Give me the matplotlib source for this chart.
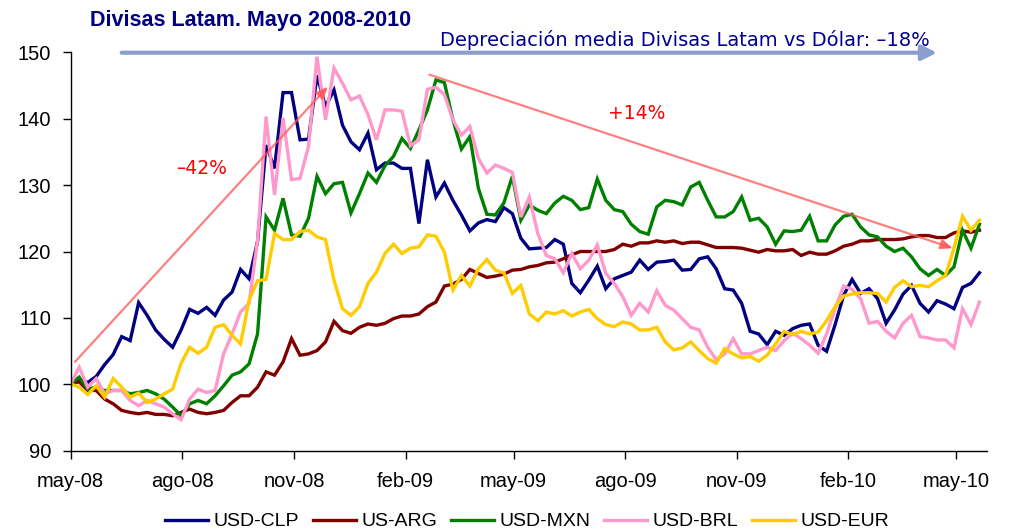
import numpy as np
import pandas as pd
import matplotlib
matplotlib.use("Agg")
import matplotlib.pyplot as plt

plt.rcParams['font.family'] = ['Liberation Sans', 'DejaVu Sans']

# weekly index, base 100 = may-08
start = pd.Timestamp('2008-05-01')

usd_clp = [100.1, 100.8, 100.3, 101.2, 103.0, 104.5, 107.2, 106.6, 112.3, 110.4, 108.2, 106.8, 105.6, 108.2,
           111.3, 110.7, 111.6, 110.4, 112.7, 113.9, 117.3, 115.9, 121.5, 136.0, 132.5, 143.9, 143.9, 136.8,
           136.9, 146.5, 141.8, 144.3, 139.0, 136.5, 135.3, 137.8, 132.3, 133.3, 133.3, 132.5, 132.5, 124.2,
           133.8, 128.2, 130.3, 127.7, 125.5, 123.1, 124.3, 124.8, 124.5, 126.6, 125.7, 122.0, 120.4,
           120.5, 120.6, 121.8, 121.1, 115.2, 113.8, 115.7, 117.8, 114.4, 115.9, 116.4, 116.9, 118.7, 117.3,
           118.4, 118.5, 118.7, 117.2, 117.3, 118.9, 119.2, 117.4, 114.4, 114.2, 112.2, 108.0, 107.6,
           106.0, 108.0, 107.4, 108.4, 108.9, 109.1, 105.9, 105.0, 109.0, 113.4, 115.8, 113.7, 114.4, 112.9,
           109.2, 111.2, 113.6, 114.9, 112.2, 110.9, 112.6, 112.1, 111.4, 114.6, 115.2, 116.8]
us_arg = [100.1, 100.4, 99.1, 99.1, 97.8, 97.1, 96.1, 95.8, 95.6, 95.8, 95.5, 95.5, 95.3, 95.8, 96.3, 95.8,
          95.6, 95.8, 96.1, 97.3, 98.3, 98.3, 99.6, 101.9, 101.4, 103.4, 106.9, 104.4,
          104.6, 105.1, 106.4, 109.5, 108.1, 107.7, 108.6, 109.1, 108.9, 109.2, 109.9, 110.3, 110.3, 110.6,
          111.7, 112.4, 114.8, 115.1, 115.8, 117.3, 116.7, 116.1, 116.3, 116.6, 117.2, 117.3, 117.7,
          117.9, 118.3, 118.4, 118.9, 119.5, 120.0, 120.0, 120.0, 120.0, 120.3, 121.1, 120.8, 121.3, 121.3,
          121.6, 121.4, 121.6, 121.2, 121.4, 121.4, 121.0, 120.6, 120.6, 120.6, 120.5, 120.2, 119.9,
          120.3, 120.1, 120.1, 120.3, 119.4, 119.9, 119.6, 119.6, 120.1, 120.8, 121.1, 121.6, 121.6, 121.8,
          121.8, 121.8, 121.9, 122.2, 122.4, 122.4, 122.1, 122.1, 122.8, 123.1, 122.9, 123.2]
usd_mxn = [100.1, 101.1, 99.3, 99.6, 99.1, 99.1, 99.1, 98.6, 98.8, 99.1, 98.6, 97.8, 96.6, 95.3, 97.1, 97.6,
           97.1, 98.3, 99.8, 101.4, 101.9, 103.1, 107.6, 125.2, 123.2, 128.0, 122.5, 122.3,
           125.0, 131.3, 128.7, 130.2, 130.4, 125.8, 128.7, 131.8, 130.4, 132.9, 134.3, 137.0, 135.5, 138.3,
           141.3, 145.8, 145.4, 139.8, 135.4, 137.3, 129.5, 125.6, 125.5, 127.3, 131.3, 124.7, 127.0,
           126.2, 125.7, 127.3, 128.3, 127.7, 126.3, 126.6, 130.9, 127.7, 126.3, 126.0, 124.1, 123.0, 122.6,
           126.7, 127.7, 127.5, 127.0, 129.7, 130.4, 127.7, 125.2, 125.2, 126.0, 128.2, 124.7, 125.0,
           123.7, 121.1, 123.1, 123.0, 123.2, 125.3, 121.6, 121.6, 124.0, 125.3, 125.6, 123.7, 122.5, 122.2,
           120.8, 120.0, 120.5, 119.2, 117.4, 116.4, 117.3, 116.4, 117.7, 123.2, 120.5, 124.1]
usd_brl = [100.1, 102.6, 99.6, 100.9, 98.6, 99.1, 99.1, 97.6, 96.8, 97.6, 97.1, 96.6, 95.6, 94.7, 97.8, 99.3,
           98.8, 99.1, 104.6, 107.6, 110.9, 112.2, 121.7, 140.3, 128.5, 140.1, 130.8, 131.0,
           135.8, 149.3, 139.8, 147.6, 145.3, 142.8, 143.4, 140.6, 136.8, 141.3, 141.3, 141.1, 135.9, 136.8,
           144.4, 144.7, 143.6, 139.8, 137.5, 138.8, 134.0, 131.8, 133.0, 132.5, 131.9, 125.2, 128.2,
           122.7, 119.4, 118.9, 116.8, 119.7, 117.4, 118.7, 121.0, 116.7, 115.2, 113.2, 110.4, 112.2, 110.9,
           114.1, 111.9, 111.2, 109.9, 108.6, 108.2, 105.6, 103.7, 104.6, 106.9, 104.6, 104.6, 105.1,
           105.6, 105.1, 106.6, 107.7, 106.9, 105.9, 104.7, 107.6, 111.4, 114.8, 114.3, 112.9, 109.2, 109.5,
           108.0, 107.0, 109.2, 110.4, 107.2, 107.0, 106.7, 106.7, 105.5, 111.4, 109.0, 112.4]
usd_eur = [100.1, 99.6, 98.5, 99.8, 98.1, 100.9, 99.6, 98.1, 98.7, 97.3, 97.8, 98.6, 99.3, 103.2, 105.6, 104.7,
           105.6, 108.6, 109.0, 107.4, 106.1, 112.7, 115.6, 115.8, 122.7, 121.8, 121.8, 123.0,
           123.2, 122.2, 121.8, 115.7, 111.4, 110.4, 111.7, 115.2, 116.9, 119.7, 121.1, 119.7, 120.5, 120.7,
           122.5, 122.3, 119.9, 114.2, 116.4, 114.8, 117.4, 118.8, 117.2, 116.8, 113.7, 114.9, 110.6,
           109.6, 110.9, 110.6, 111.1, 110.3, 110.9, 111.3, 109.9, 109.0, 108.7, 109.4, 109.1, 108.2, 108.2,
           108.6, 106.4, 105.2, 105.5, 106.4, 105.1, 103.9, 103.2, 105.4, 104.6, 104.0, 104.2, 103.5,
           104.4, 106.1, 108.0, 107.5, 108.0, 107.6, 107.9, 109.6, 111.7, 113.3, 113.6, 113.8, 113.8, 113.7,
           112.4, 114.6, 115.6, 114.7, 114.9, 114.7, 115.6, 116.4, 120.5, 125.3, 123.2, 124.7]

series = ['USD-CLP', 'US-ARG', 'USD-MXN', 'USD-BRL', 'USD-EUR']
colors = ['#000080', '#800000', '#008000', '#FF99CC', '#FFCC00']
tick_labels = ['may-08', 'ago-08', 'nov-08', 'feb-09', 'may-09', 'ago-09', 'nov-09', 'feb-10', 'may-10']

dates = pd.date_range(start, periods=len(usd_clp), freq='7D')
df = pd.DataFrame({'USD-CLP': usd_clp, 'US-ARG': us_arg, 'USD-MXN': usd_mxn,
                   'USD-BRL': usd_brl, 'USD-EUR': usd_eur}, index=dates)

fig = plt.figure(figsize=(10.1, 5.31), dpi=100)
ax = fig.add_axes([0.070, 0.1507, 0.907, 0.7513])

for name, c in zip(series, colors):
    ax.plot(df.index, df[name], color=c, lw=2.4, label=name, solid_joinstyle='miter')

ax.set_ylim(90, 150)
ax.set_yticks(range(90, 151, 10))
ax.set_xlim(start, start + pd.Timedelta(days=755))
ticks = pd.date_range(start, periods=len(tick_labels), freq='3MS')
ax.set_xticks(ticks)
ax.set_xticklabels(tick_labels)

for s in ['top', 'right']:
    ax.spines[s].set_visible(False)
for s in ['left', 'bottom']:
    ax.spines[s].set_linewidth(1.0)
ax.tick_params(axis='both', direction='out', length=6, width=1, labelsize=14.5)
ax.tick_params(axis='y', pad=8)
ax.tick_params(axis='x', pad=9)

d = lambda n: start + pd.Timedelta(days=n)

# blue arrow on top
ax.annotate('', xy=(d(714), 149.9), xytext=(d(42), 149.9), annotation_clip=False,
            arrowprops=dict(arrowstyle='-|>,head_length=0.9,head_width=0.45', color='#8A9FCE', lw=3.0,
                            shrinkA=0, shrinkB=0))
ax.text(d(506), 150.9, 'Depreciación media Divisas Latam vs Dólar: \u201318%', color='#000090',
        fontsize=14, family='DejaVu Sans', ha='center', va='baseline', clip_on=False)

# red trend arrows
red = dict(arrowstyle='-|>,head_length=0.7,head_width=0.3', color='#FF5555', lw=1.6, alpha=0.75,
           shrinkA=0, shrinkB=0)
ax.annotate('', xy=(d(212), 144.8), xytext=(d(3.5), 103.4), arrowprops=red)
ax.annotate('', xy=(d(727), 120.5), xytext=(d(295.6), 146.6), arrowprops=red)
ax.text(d(108), 132.5, '\u201342%', color='#FF0000', fontsize=13.5, family='DejaVu Sans',
        ha='center', va='center')
ax.text(d(466.6), 140.8, '+14%', color='#FF0000', fontsize=13.5, family='DejaVu Sans',
        ha='center', va='center')

fig.text(0.089, 1 - 26.0 / 531, 'Divisas Latam. Mayo 2008-2010', color='#000080',
         fontsize=15.5, fontweight='bold', ha='left', va='baseline')

fig.legend(loc='center', bbox_to_anchor=(0.522, 1 - 521.5 / 531), ncol=5, frameon=False,
           fontsize=14, handlelength=2.2, handletextpad=0.3, columnspacing=0.7)

fig.savefig('out.png', dpi=100)
